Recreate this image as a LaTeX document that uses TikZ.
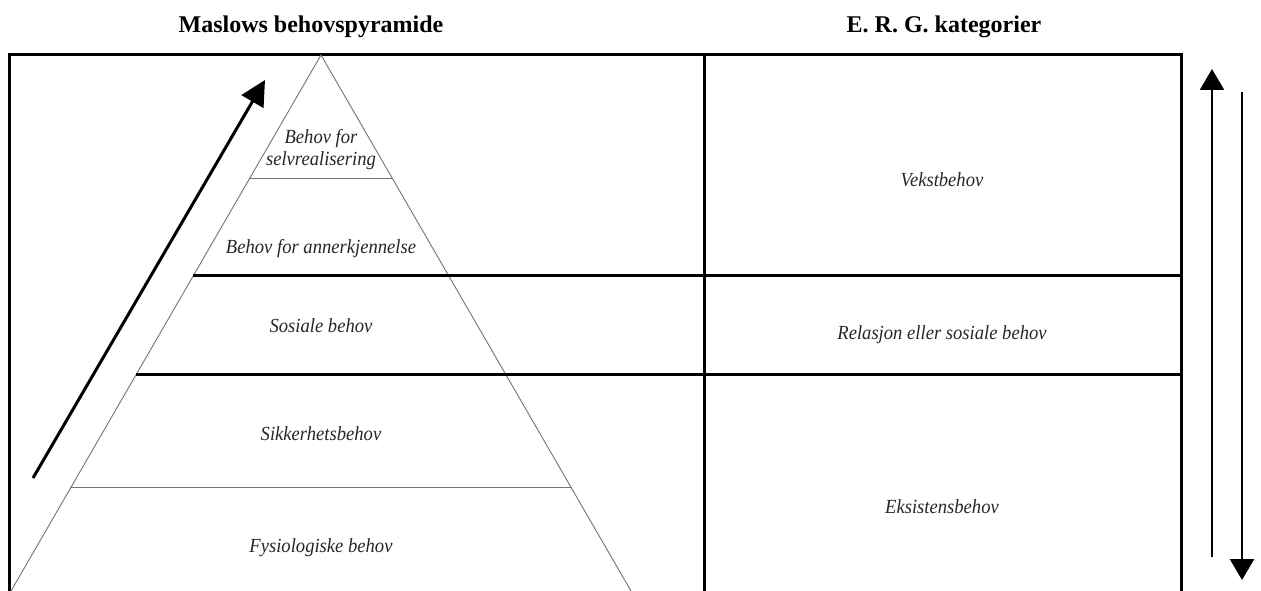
\documentclass[tikz,border=0pt]{standalone}
\usepackage{fontspec}
\setmainfont{Liberation Serif}
\newfontfamily\labfont[FakeStretch=0.93]{Liberation Serif}
\usetikzlibrary{calc,arrows.meta}
\tikzset{
  frameline/.style={line width=3pt, line cap=rect},
  pyrline/.style={line width=0.9pt, draw=black!55},
  lab/.style={font=\labfont\itshape\fontsize{20}{22}\selectfont, text=black!85, anchor=base, align=center, inner sep=0pt},
  ttl/.style={font=\bfseries\fontsize{24}{26}\selectfont, anchor=base, inner sep=0pt},
  bigarrow/.style={line width=3pt, -{Triangle[length=25pt,width=25pt]}},
  sidearrow/.style={line width=2.5pt, -{Triangle[length=21pt,width=24pt]}}
}
\begin{document}
\begin{tikzpicture}[x=1pt,y=-1pt]
\useasboundingbox (0,0) rectangle (1261,591);
% frame
\coordinate (fbl) at (9,596);
\coordinate (ftl) at (9,55);
\coordinate (ftr) at (1181,55);
\coordinate (fbr) at (1181,596);
\coordinate (mt) at (704,55);
\coordinate (mb) at (704,596);
\draw[frameline] (fbl) -- (ftl) -- (ftr) -- (fbr);
\draw[frameline] (mt) -- (mb);
% pyramid
\coordinate (apex) at (321,55);
\coordinate (pbl) at (11,591);
\coordinate (pbr) at (631,591);
\draw[pyrline] (pbl) -- (apex) -- (pbr);
\coordinate (l1) at ($(apex)!0.2295!(pbl)$);
\coordinate (r1) at ($(apex)!0.2295!(pbr)$);
\coordinate (l2) at ($(apex)!0.4123!(pbl)$);
\coordinate (l3) at ($(apex)!0.597!(pbl)$);
\coordinate (l4) at ($(apex)!0.806!(pbl)$);
\coordinate (r4) at ($(apex)!0.806!(pbr)$);
\draw[pyrline] (l1) -- (r1);
\draw[pyrline] (l4) -- (r4);
\draw[frameline, line cap=butt] (l2) -- (l2 -| fbr);
\draw[frameline, line cap=butt] (l3) -- (l3 -| fbr);
% titles
\node[ttl] (t1) at (311,33) {Maslows behovspyramide};
\node[ttl] (t2) at (944,33) {E. R. G. kategorier};
% pyramid labels
\node[lab, anchor=center] (p5) at (321,150) {Behov for\\selvrealisering};
\node[lab] (p4) at (321,253) {Behov for annerkjennelse};
\node[lab] (p3) at (321,332) {Sosiale behov};
\node[lab] (p2) at (321,440) {Sikkerhetsbehov};
\node[lab] (p1) at (321,552) {Fysiologiske behov};
% ERG labels
\node[lab] (e3) at (942,186) {Vekstbehov};
\node[lab] (e2) at (942,339) {Relasjon eller sosiale behov};
\node[lab] (e1) at (942,513) {Eksistensbehov};
% arrows
\coordinate (da) at (33,478);
\coordinate (db) at (265,80);
\draw[bigarrow] (da) -- (db);
\coordinate (ua) at (1212,557);
\coordinate (ub) at (1212,69);
\draw[sidearrow] (ua) -- (ub);
\coordinate (wa) at (1242,92);
\coordinate (wb) at (1242,580);
\draw[sidearrow] (wa) -- (wb);
\end{tikzpicture}
\end{document}
